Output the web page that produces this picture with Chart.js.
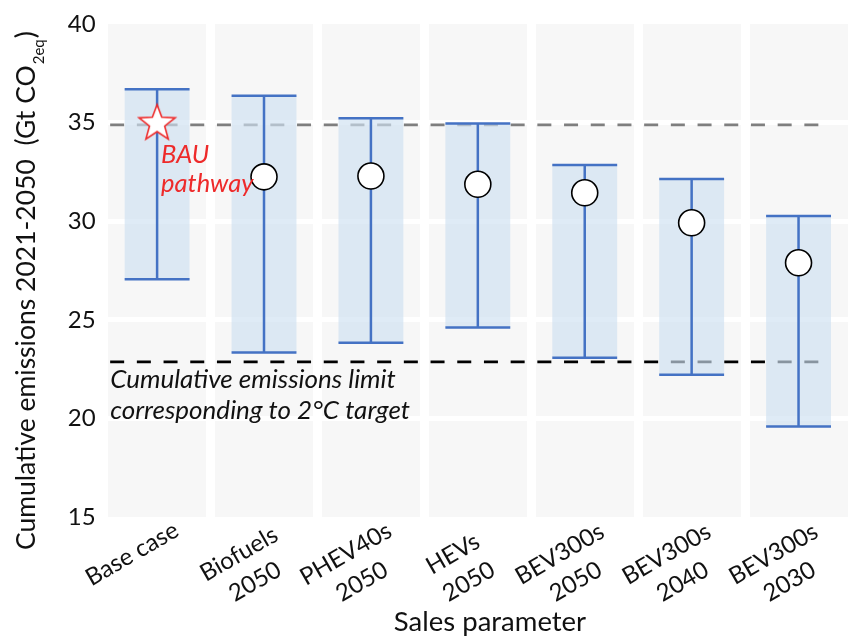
<!DOCTYPE html>
<html>
<head>
<meta charset="utf-8">
<script src="https://cdn.jsdelivr.net/npm/chart.js@4"></script>
<style>
  html, body { margin: 0; padding: 0; background: #fff; overflow: hidden; width: 853px; height: 636px; }
  #wrap { width: 872px; height: 636px; }
</style>
</head>
<body>
<div id="wrap"><canvas id="c" width="872" height="636"></canvas></div>
<script>
// Sales scenarios (one category per column, label lines split for the axis)
const categories = [
  ['Base case'],
  ['Biofuels', '2050'],
  ['PHEV40s', '2050'],
  ['HEVs', '2050'],
  ['BEV300s', '2050'],
  ['BEV300s', '2040'],
  ['BEV300s', '2030']
];
// Cumulative emissions 2021-2050, Gt CO2eq
const rangeLow     = [27.05, 23.34, 23.83, 24.61, 23.07, 22.21, 19.59];
const rangeHigh    = [36.69, 36.36, 35.22, 34.96, 32.85, 32.14, 30.27];
const centralValue = [null, 32.25, 32.29, 31.87, 31.44, 29.92, 27.89];
const bauValue     = [35.0, null, null, null, null, null, null];
const yTicks       = [15, 20, 25, 30, 35, 40];
const bauLine      = 34.88;   // business-as-usual reference
const limitLine    = 22.87;   // 2 °C cumulative limit

const FONT = 'Lato, "Open Sans", "DejaVu Sans", sans-serif';
const BLUE = '#4472c4';

// white star with red outline used as the BAU marker
function makeStar(R, r, stroke) {
  const size = Math.ceil(R * 2 + 4);
  const cv = document.createElement('canvas');
  cv.width = size; cv.height = size;
  const g = cv.getContext('2d');
  const c = size / 2;
  g.beginPath();
  for (let k = 0; k < 10; k++) {
    const rad = k % 2 === 0 ? R : r;
    const ang = -Math.PI / 2 + k * Math.PI / 5;
    const px = c + rad * Math.cos(ang), py = c + 1 + rad * Math.sin(ang);
    if (k === 0) g.moveTo(px, py); else g.lineTo(px, py);
  }
  g.closePath();
  g.fillStyle = '#ffffff';
  g.fill();
  g.lineWidth = 1.6;
  g.strokeStyle = stroke;
  g.stroke();
  return cv;
}
const starImg = makeStar(19, 8, '#ee2a2a');

const plotBackground = {
  id: 'plotBackground',
  beforeDraw(chart) {
    const { ctx, chartArea: a } = chart;
    ctx.save();
    ctx.fillStyle = '#f7f7f7';
    ctx.fillRect(a.left, a.top, a.right - a.left, a.bottom - a.top);
    ctx.restore();
  }
};

const referenceLines = {
  id: 'referenceLines',
  beforeDatasetsDraw(chart) {
    const { ctx, chartArea: a } = chart;
    const ys = chart.scales.y;
    const bars = chart.getDatasetMeta(0).data;
    const last = bars[bars.length - 1];
    const x0 = a.left + 6.5;
    const x1 = last.x + last.width / 2;
    ctx.save();
    ctx.lineWidth = 2.8;
    ctx.setLineDash([14, 12.7]);
    [[bauLine, '#7f7f7f'], [limitLine, '#000000']].forEach(([v, col]) => {
      const y = ys.getPixelForValue(v);
      ctx.strokeStyle = col;
      ctx.beginPath();
      ctx.moveTo(x0, y);
      ctx.lineTo(x1, y);
      ctx.stroke();
    });
    ctx.restore();
  }
};

const whiskers = {
  id: 'whiskers',
  afterDatasetDraw(chart, args) {
    if (args.index !== 0) return;
    const { ctx } = chart;
    const ys = chart.scales.y;
    ctx.save();
    ctx.strokeStyle = BLUE;
    ctx.lineWidth = 2.5;
    args.meta.data.forEach((bar, i) => {
      const yl = ys.getPixelForValue(rangeLow[i]);
      const yh = ys.getPixelForValue(rangeHigh[i]);
      const hw = bar.width / 2;
      ctx.beginPath();
      ctx.moveTo(bar.x, yl); ctx.lineTo(bar.x, yh);
      ctx.moveTo(bar.x - hw, yl); ctx.lineTo(bar.x + hw, yl);
      ctx.moveTo(bar.x - hw, yh); ctx.lineTo(bar.x + hw, yh);
      ctx.stroke();
    });
    ctx.restore();
  }
};

const textLayer = {
  id: 'textLayer',
  afterDraw(chart) {
    const { ctx, chartArea: a } = chart;
    const xs = chart.scales.x;
    ctx.save();
    ctx.fillStyle = '#111';

    // rotated, centred category labels
    const rot = -30 * Math.PI / 180;
    const lh = 32;
    ctx.font = `24px ${FONT}`;
    ctx.textAlign = 'center';
    ctx.textBaseline = 'middle';
    categories.forEach((lines, i) => {
      const cx = xs.getPixelForValue(i) - 25;
      const cy = a.bottom + 37;
      ctx.save();
      ctx.translate(cx, cy);
      ctx.rotate(rot);
      lines.forEach((t, j) => ctx.fillText(t, 0, j * lh));
      ctx.restore();
    });

    // x-axis title
    ctx.font = `27.5px ${FONT}`;
    ctx.textBaseline = 'alphabetic';
    ctx.fillText('Sales parameter', 490, 631);

    // y-axis title with subscript
    ctx.save();
    ctx.translate(35, 550);
    ctx.rotate(-Math.PI / 2);
    ctx.textAlign = 'left';
    const main = 'Cumulative emissions 2021-2050  (Gt CO';
    ctx.font = `26.5px ${FONT}`;
    ctx.fillText(main, 0, 0);
    let w = ctx.measureText(main).width;
    ctx.font = `15px ${FONT}`;
    ctx.fillText('2eq', w + 1, 9);
    w += ctx.measureText('2eq').width + 2;
    ctx.font = `26.5px ${FONT}`;
    ctx.fillText(')', w, 0);
    ctx.restore();

    // annotations
    ctx.textAlign = 'left';
    ctx.font = `italic 25.5px ${FONT}`;
    ctx.fillStyle = '#ee2a2a';
    const bx = xs.getPixelForValue(0) + 4;
    ctx.fillText('BAU', bx, 163);
    ctx.fillText('pathway', bx, 192);
    ctx.fillStyle = '#111';
    ctx.font = `italic 26px ${FONT}`;
    ctx.fillText('Cumulative emissions limit', a.left + 6.5, 388);
    ctx.fillText('corresponding to 2\u00B0C target', a.left + 6.5, 419);
    ctx.restore();
  }
};

new Chart(document.getElementById('c'), {
  type: 'bar',
  data: {
    labels: categories.map(c => c.join(' ')),
    datasets: [
      {
        type: 'bar',
        label: 'Range',
        data: rangeLow.map((lo, i) => [lo, rangeHigh[i]]),
        backgroundColor: 'rgba(206,224,241,0.66)',
        borderWidth: 0,
        barPercentage: 0.607,
        categoryPercentage: 1,
        order: 3
      },
      {
        type: 'line',
        label: 'Central estimate',
        data: centralValue,
        showLine: false,
        pointStyle: 'circle',
        pointRadius: 13,
        pointBorderWidth: 1.6,
        pointBackgroundColor: '#ffffff',
        pointBorderColor: '#000000',
        order: 1
      },
      {
        type: 'line',
        label: 'BAU pathway',
        data: bauValue,
        showLine: false,
        pointStyle: starImg,
        pointRadius: 19,
        order: 0
      }
    ]
  },
  options: {
    responsive: false,
    animation: false,
    events: [],
    layout: { padding: { left: 40, right: 7.5, top: 24, bottom: 0 } },
    plugins: { legend: { display: false }, tooltip: { enabled: false } },
    scales: {
      x: {
        offset: true,
        grid: { offset: true, color: '#ffffff', lineWidth: 9, drawTicks: false },
        border: { display: false },
        ticks: { display: false },
        afterFit(s) { s.height = 119; }
      },
      y: {
        min: yTicks[0],
        max: yTicks[yTicks.length - 1],
        afterBuildTicks(s) { s.ticks = yTicks.map(v => ({ value: v })); },
        ticks: { font: { family: FONT, size: 24 }, color: '#111', padding: 8 },
        grid: {
          color: c => (c.tick && (c.tick.value === yTicks[0] || c.tick.value === yTicks[yTicks.length - 1])) ? 'rgba(0,0,0,0)' : '#ffffff',
          lineWidth: 5,
          drawTicks: false
        },
        border: { display: false },
        afterFit(s) { s.width = 63.65; }
      }
    }
  },
  plugins: [plotBackground, referenceLines, whiskers, textLayer]
});
</script>
</body>
</html>
